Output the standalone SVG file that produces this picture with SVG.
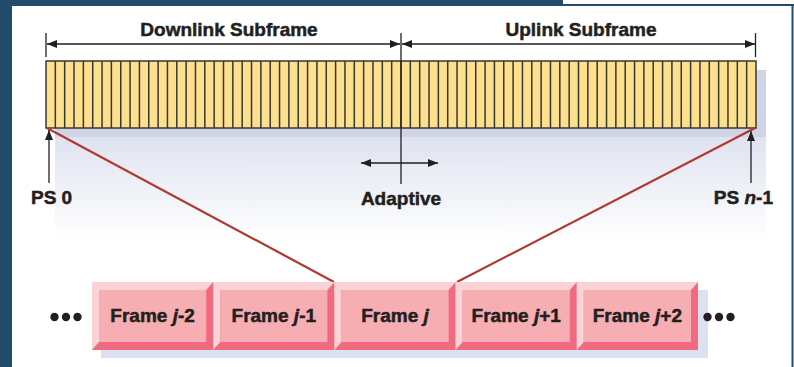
<svg xmlns="http://www.w3.org/2000/svg" xmlns:xlink="http://www.w3.org/1999/xlink" width="794" height="367" viewBox="0 0 794 367">
<style>
.t{font-family:"Liberation Sans",Arial,sans-serif;font-weight:bold;font-size:19px;fill:#231f20;stroke:#231f20;stroke-width:0.5}
.ln{stroke:#231f20;stroke-width:1.3;fill:none}
.cell{stroke:#3a3633;stroke-width:1.5}
.red{stroke:#b0392f;stroke-width:2.2;fill:none}
.lt{fill:#fbd2d5}.dk{fill:#f06b7f}.fc{fill:#f7aeb3}
</style>
<defs>
<marker id="ah" viewBox="0 0 10 8" refX="10" refY="4" markerWidth="10" markerHeight="8" markerUnits="userSpaceOnUse" orient="auto-start-reverse">
<path d="M0,0 L10,4 L0,8 Z" fill="#231f20"/>
</marker>
<linearGradient id="fade" x1="0" y1="0" x2="0" y2="1">
<stop offset="0" stop-color="#dfe3f0"/>
<stop offset="1" stop-color="#ffffff"/>
</linearGradient>
<g id="box">
<rect x="0" y="0" width="121.2" height="68" class="dk"/>
<path d="M0,0 H121.2 L114.2,8 H7 V60 L0,68 Z" class="lt"/>
<rect x="7" y="8" width="107.2" height="52" class="fc"/>
</g>
</defs>
<rect width="794" height="367" fill="#ffffff"/>
<!-- outer frame -->
<rect x="0" y="0" width="12" height="367" fill="#234b6b"/>
<rect x="0" y="0" width="563" height="6" fill="#234b6b"/>
<rect x="563" y="4" width="231" height="2" fill="#234b6b"/>
<rect x="791.5" y="4" width="2" height="363" fill="#234b6b"/>
<!-- shadows -->
<rect x="55" y="137" width="711" height="103" fill="url(#fade)"/>
<rect x="55" y="70" width="711" height="67" fill="#cfd5e7"/>
<rect x="101" y="290" width="607" height="68" fill="#dbe1ee"/>
<!-- bar -->
<g id="bar">
<rect x="46" y="61" width="710" height="67" fill="#fde08e" stroke="#3a3633" stroke-width="1.5"/>
<path class="cell" d="M55.34,61V128M64.68,61V128M74.03,61V128M83.37,61V128M92.71,61V128M102.05,61V128M111.39,61V128M120.74,61V128M130.08,61V128M139.42,61V128M148.76,61V128M158.11,61V128M167.45,61V128M176.79,61V128M186.13,61V128M195.47,61V128M204.82,61V128M214.16,61V128M223.5,61V128M232.84,61V128M242.18,61V128M251.53,61V128M260.87,61V128M270.21,61V128M279.55,61V128M288.89,61V128M298.24,61V128M307.58,61V128M316.92,61V128M326.26,61V128M335.61,61V128M344.95,61V128M354.29,61V128M363.63,61V128M372.97,61V128M382.32,61V128M391.66,61V128M401,61V128M410.34,61V128M419.68,61V128M429.03,61V128M438.37,61V128M447.71,61V128M457.05,61V128M466.39,61V128M475.74,61V128M485.08,61V128M494.42,61V128M503.76,61V128M513.11,61V128M522.45,61V128M531.79,61V128M541.13,61V128M550.47,61V128M559.82,61V128M569.16,61V128M578.5,61V128M587.84,61V128M597.18,61V128M606.53,61V128M615.87,61V128M625.21,61V128M634.55,61V128M643.89,61V128M653.24,61V128M662.58,61V128M671.92,61V128M681.26,61V128M690.61,61V128M699.95,61V128M709.29,61V128M718.63,61V128M727.97,61V128M737.32,61V128M746.66,61V128"/>
</g>
<!-- connectors -->
<g id="connectors">
<line class="red" x1="47" y1="128" x2="334" y2="282"/>
<line class="red" x1="755" y1="128" x2="457" y2="282"/>
<line class="ln" x1="46" y1="33" x2="46" y2="57"/>
<line class="ln" x1="755.5" y1="33" x2="755.5" y2="57"/>
<line class="ln" x1="401" y1="33" x2="401" y2="184"/>
<line class="ln" x1="47" y1="44" x2="400" y2="44" marker-start="url(#ah)" marker-end="url(#ah)"/>
<line class="ln" x1="402" y1="44" x2="755" y2="44" marker-start="url(#ah)" marker-end="url(#ah)"/>
<line class="ln" x1="361" y1="163" x2="438" y2="163" marker-start="url(#ah)" marker-end="url(#ah)"/>
<line class="ln" x1="49" y1="183" x2="49" y2="130" marker-end="url(#ah)"/>
<line class="ln" x1="751" y1="183" x2="751" y2="131" marker-end="url(#ah)"/>
</g>
<!-- labels -->
<g id="labels">
<text class="t" x="229" y="36" text-anchor="middle">Downlink Subframe</text>
<text class="t" x="581" y="36" text-anchor="middle">Uplink Subframe</text>
<text class="t" x="401" y="205" text-anchor="middle">Adaptive</text>
<text class="t" x="31" y="204">PS 0</text>
<text class="t" x="773" y="204" text-anchor="end">PS <tspan font-style="italic">n</tspan>-1</text>
</g>
<!-- frames -->
<g id="frame-j-2"><use xlink:href="#box" x="92" y="282"/><text class="t" x="152.6" y="322" text-anchor="middle">Frame <tspan font-style="italic">j</tspan>-2</text></g>
<g id="frame-j-1"><use xlink:href="#box" x="213.2" y="282"/><text class="t" x="273.8" y="322" text-anchor="middle">Frame <tspan font-style="italic">j</tspan>-1</text></g>
<g id="frame-j"><use xlink:href="#box" x="334.4" y="282"/><text class="t" x="395" y="322" text-anchor="middle">Frame <tspan font-style="italic">j</tspan></text></g>
<g id="frame-j+1"><use xlink:href="#box" x="455.6" y="282"/><text class="t" x="516.2" y="322" text-anchor="middle">Frame <tspan font-style="italic">j</tspan>+1</text></g>
<g id="frame-j+2"><use xlink:href="#box" x="576.8" y="282"/><text class="t" x="637.4" y="322" text-anchor="middle">Frame <tspan font-style="italic">j</tspan>+2</text></g>
<g id="dots-left" fill="#231f20"><circle cx="54.5" cy="317" r="4.2"/><circle cx="66" cy="317" r="4.2"/><circle cx="77.5" cy="317" r="4.2"/></g>
<g id="dots-right" fill="#231f20"><circle cx="707.5" cy="317" r="4.2"/><circle cx="719" cy="317" r="4.2"/><circle cx="730.5" cy="317" r="4.2"/></g>
</svg>
